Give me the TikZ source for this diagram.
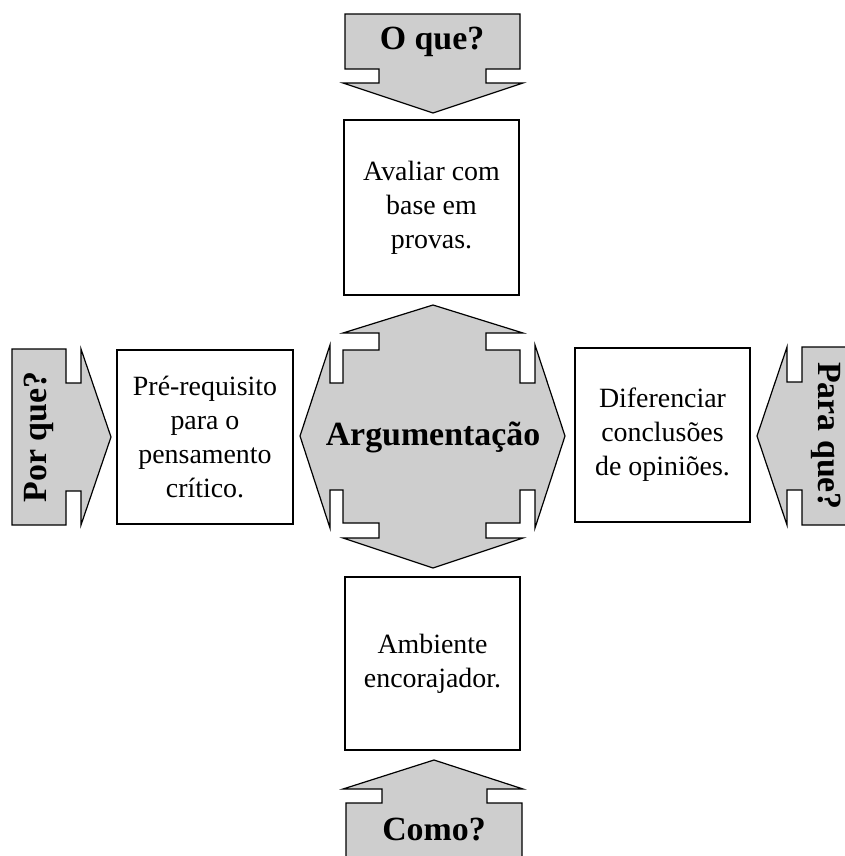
\documentclass[tikz,border=0pt]{standalone}
\usepackage{fontspec}
\setmainfont{Liberation Serif}
\definecolor{shapegray}{RGB}{206,206,206}
\begin{document}
\begin{tikzpicture}[x=1bp,y=-1bp,line join=miter,
  shp/.style={draw=black,fill=shapegray,line width=1.2bp},
  box/.style={draw=black,fill=white,line width=1.2bp,inner sep=0pt,align=center,
    font=\fontsize{28}{34}\selectfont},
  labeltext/.style={font=\bfseries\fontsize{34}{40}\selectfont,inner sep=0pt}]
\useasboundingbox (0,0) rectangle (845,856);
\clip (0,0) rectangle (845,856);

% top arrow
\draw[shp] (345,14) -- (520,14) -- (520,69) -- (486,69) -- (486,83) -- (523,83)
  -- (433,113) -- (343,83) -- (379,83) -- (379,69) -- (345,69) -- cycle;
\node[labeltext] (oque) at (432,42) {O que?};

% top box
\node[box,minimum width=175bp,minimum height=175bp] (avaliar) at (431.5,207.5)
  {Avaliar com\\base em\\provas.};

% central shape
\draw[shp] (433,305) -- (523,333) -- (486,333) -- (486,350) -- (520,350) -- (520,383)
  -- (535,383) -- (535,345) -- (565,436) -- (535,528) -- (535,490) -- (520,490)
  -- (520,523) -- (486,523) -- (486,538) -- (523,538) -- (433,568) -- (343,538)
  -- (379,538) -- (379,523) -- (343,523) -- (343,490) -- (330,490) -- (330,528)
  -- (300,436) -- (330,345) -- (330,383) -- (343,383) -- (343,350) -- (379,350)
  -- (379,333) -- (343,333) -- cycle;
\node[labeltext] (arg) at (433,437) {Argumentação};

% left box and arrow
\node[box,minimum width=176bp,minimum height=174bp] (prereq) at (205,437)
  {Pré-requisito\\para o\\pensamento\\crítico.};
\draw[shp] (12,349) -- (66,349) -- (66,383) -- (81,383) -- (81,349) -- (111,437)
  -- (81,525) -- (81,491) -- (66,491) -- (66,525) -- (12,525) -- cycle;
\node[labeltext,rotate=90] (porque) at (39,437) {Por que?};

% right box and arrow
\node[box,minimum width=175bp,minimum height=174bp] (difer) at (662.5,435)
  {Diferenciar\\conclusões\\de opiniões.};
\draw[shp] (858,347) -- (802,347) -- (802,382) -- (787,382) -- (787,347) -- (757,436)
  -- (787,525) -- (787,490) -- (802,490) -- (802,525) -- (858,525) -- cycle;
\node[labeltext,rotate=-90] (paraque) at (826,436) {Para que?};

% bottom box and arrow
\node[box,minimum width=175bp,minimum height=173bp] (ambiente) at (432.5,663.5)
  {Ambiente\\encorajador.};
\draw[shp] (434,760) -- (523,789) -- (487,789) -- (487,803) -- (522,803) -- (522,860)
  -- (346,860) -- (346,803) -- (382,803) -- (382,789) -- (343,789) -- cycle;
\node[labeltext] (como) at (434,830) {Como?};
\end{tikzpicture}
\end{document}
